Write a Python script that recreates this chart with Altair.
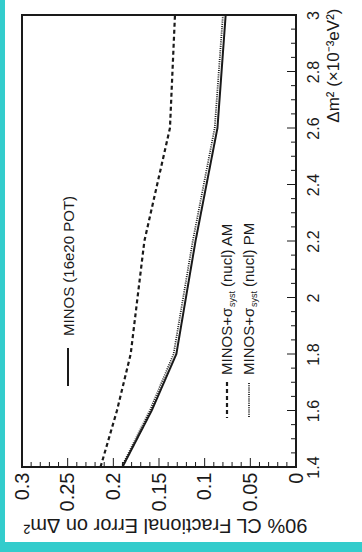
import altair as alt
import pandas as pd

# ---- data (plot drawn rotated 90 degrees) ----
dm2 = [1.4, 1.6, 1.8, 2.2, 2.6, 3.0]
err_minos = [0.190, 0.158, 0.131, 0.110, 0.086, 0.077]
err_am = [0.214, 0.196, 0.181, 0.166, 0.138, 0.1325]
err_pm = [0.191, 0.160, 0.134, 0.113, 0.089, 0.080]

err_major = [0.0, 0.05, 0.1, 0.15, 0.2, 0.25, 0.3]
err_minor = [0.01, 0.02, 0.03, 0.04, 0.06, 0.07, 0.08, 0.09, 0.11, 0.12, 0.13, 0.14,
             0.16, 0.17, 0.18, 0.19, 0.21, 0.22, 0.23, 0.24, 0.26, 0.27, 0.28, 0.29]
dm2_major = [1.4, 1.6, 1.8, 2.0, 2.2, 2.4, 2.6, 2.8, 3.0]
dm2_minor = [1.45, 1.5, 1.55, 1.65, 1.7, 1.75, 1.85, 1.9, 1.95, 2.05, 2.1, 2.15,
             2.25, 2.3, 2.35, 2.45, 2.5, 2.55, 2.65, 2.7, 2.75, 2.85, 2.9, 2.95]

W, H = 274, 452
PL, PT = 22, 15
FONT = "Liberation Sans"
INK = "#1a1a1a"

df = pd.DataFrame({
    "dm2": dm2 * 3,
    "err": err_minos + err_am + err_pm,
    "series": ["MINOS"] * len(dm2) + ["AM"] * len(dm2) + ["PM"] * len(dm2),
})

xs = alt.Scale(domain=[0, 0.3], reverse=True, nice=False, zero=False)
ys = alt.Scale(domain=[1.4, 3.0], nice=False, zero=False)

one = pd.DataFrame({"k": [0]})

bg = alt.Chart(one).mark_rect(fill="white").encode(
    x=alt.value(5 - PL), x2=alt.value(362 - PL),
    y=alt.value(-PT), y2=alt.value(542 - PT),
)

xaxis = alt.Axis(values=err_major, format="~g", labelAngle=270, labelAlign="right",
                 labelBaseline="middle", labelFontSize=20, labelPadding=5, ticks=False,
                 domain=False, grid=False, labelColor=INK, zindex=2,
                 title="90% CL Fractional Error on Δm²", titleAngle=180,
                 titleBaseline="bottom", titleX=143,
                 titleFontSize=20, titleFontWeight="normal", titleColor=INK, titlePadding=4,
                 labelFont=FONT, titleFont=FONT)
yaxis = alt.Axis(values=dm2_major, format="~g", orient="right", labelAngle=270,
                 labelAlign="center", labelBaseline="top", labelFontSize=16, labelPadding=9,
                 ticks=False, domain=False, grid=False, labelColor=INK, zindex=2,
                 title="Δm² (×10⁻³eV²)", titleAngle=270, titleAnchor="end",
                 titleAlign="right", titleBaseline="top", titleY=-7,
                 titleFontSize=17, titleFontWeight="normal", titleColor=INK, titlePadding=4,
                 labelFont=FONT, titleFont=FONT)


def curve(name, dash, width):
    return alt.Chart(df[df.series == name]).mark_line(
        color=INK, strokeDash=dash, strokeWidth=width, clip=True
    ).encode(
        x=alt.X("err:Q", scale=xs, axis=xaxis),
        y=alt.Y("dm2:Q", scale=ys, axis=yaxis),
        order="dm2:Q",
    )


solid = curve("MINOS", [1, 0], 2)
dashed = curve("AM", [4, 3], 2.2)
dotted = curve("PM", [1, 1.2], 1.8)

# inward ticks
xt_major = alt.Chart(pd.DataFrame({"err": err_major})).mark_rule(color=INK, strokeWidth=1).encode(
    x=alt.X("err:Q", scale=xs, axis=xaxis), y=alt.value(H), y2=alt.value(H - 9))
xt_minor = alt.Chart(pd.DataFrame({"err": err_minor})).mark_rule(color=INK, strokeWidth=1).encode(
    x=alt.X("err:Q", scale=xs, axis=xaxis), y=alt.value(H), y2=alt.value(H - 5))
yt_major = alt.Chart(pd.DataFrame({"dm2": dm2_major})).mark_rule(color=INK, strokeWidth=1).encode(
    y=alt.Y("dm2:Q", scale=ys, axis=yaxis), x=alt.value(W), x2=alt.value(W - 9))
yt_minor = alt.Chart(pd.DataFrame({"dm2": dm2_minor})).mark_rule(color=INK, strokeWidth=1).encode(
    y=alt.Y("dm2:Q", scale=ys, axis=yaxis), x=alt.value(W), x2=alt.value(W - 5))

frame = alt.Chart(one).mark_rect(fill=None, stroke=INK, strokeWidth=2).encode(
    x=alt.value(0), x2=alt.value(W), y=alt.value(0), y2=alt.value(H))

# legend (rotated)
def ltext(txt, px, py, size=15):
    return alt.Chart(one).mark_text(
        text=txt, angle=270, align="left", baseline="middle", fontSize=size,
        font=FONT, color=INK
    ).encode(x=alt.value(px - PL), y=alt.value(py - PT))


def lseg(px, y1, y2, dash, width):
    return alt.Chart(one).mark_rule(color=INK, strokeDash=dash, strokeWidth=width).encode(
        x=alt.value(px - PL), y=alt.value(y1 - PT), y2=alt.value(y2 - PT))


legend = [
    lseg(68, 348, 386, [1, 0], 2),
    ltext("MINOS (16e20 POT)", 69, 336),
    lseg(227, 382, 418, [4, 3], 2.2),
    ltext("MINOS+σ", 227, 375),
    ltext("syst", 232, 307, 9),
    ltext("(nucl) AM", 227, 287),
    lseg(249, 383, 418, [1, 1.2], 1.8),
    ltext("MINOS+σ", 249, 375),
    ltext("syst", 254, 307, 9),
    ltext("(nucl) PM", 249, 287),
]

chart = alt.layer(
    bg, solid, dashed, dotted, xt_major, xt_minor, yt_major, yt_minor, frame, *legend
).properties(
    width=W, height=H,
    background="#33cccc",
    padding={"left": PL, "top": PT, "right": 362 - PL - W, "bottom": 552 - PT - H},
    autosize=alt.AutoSizeParams(type="none"),
).configure_view(stroke=None)

chart.save("out.html", embed_options={"renderer": "svg", "actions": False})
